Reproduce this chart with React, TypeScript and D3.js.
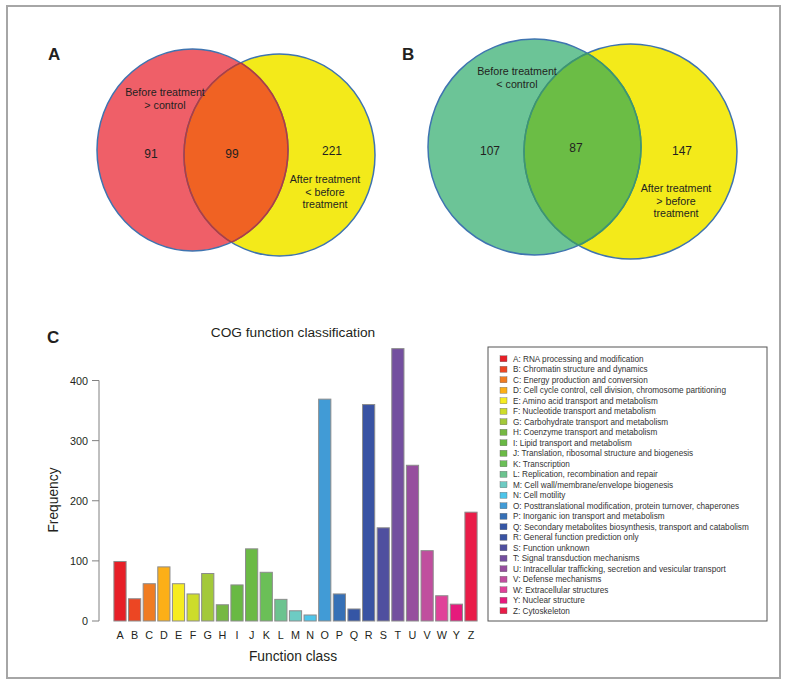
import React from "react";
import * as d3 from "d3";

const categories = ["A","B","C","D","E","F","G","H","I","J","K","L","M","N","O","P","Q","R","S","T","U","V","W","Y","Z"];
const frequencies = [99,37,62,90,62,45,79,27,60,120,81,36,17,10,369,45,20,360,155,453,259,117,42,28,181];
const barColors = ["#e71f27","#ec4623","#f07c22","#fcaf17","#f6ec1f","#cddc2a","#a3c93a","#76b843","#69b944","#6bba45","#6bbf57","#6cc38f","#6dcbc3","#4dc5ea","#419bd6","#3670b6","#3556a5","#3953a3","#4f4f9f","#744f9f","#964e9e","#c04e9e","#e04199","#e61a7c","#e91c48"];
const legendLabels = [
  "A: RNA processing and modification",
  "B: Chromatin structure and dynamics",
  "C: Energy production and conversion",
  "D: Cell cycle control, cell division, chromosome partitioning",
  "E: Amino acid transport and metabolism",
  "F: Nucleotide transport and metabolism",
  "G: Carbohydrate transport and metabolism",
  "H: Coenzyme transport and metabolism",
  "I: Lipid transport and metabolism",
  "J: Translation, ribosomal structure and biogenesis",
  "K: Transcription",
  "L: Replication, recombination and repair",
  "M: Cell wall/membrane/envelope biogenesis",
  "N: Cell motility",
  "O: Posttranslational modification, protein turnover, chaperones",
  "P: Inorganic ion transport and metabolism",
  "Q: Secondary metabolites biosynthesis, transport and catabolism",
  "R: General function prediction only",
  "S: Function unknown",
  "T: Signal transduction mechanisms",
  "U: Intracellular trafficking, secretion and vesicular transport",
  "V: Defense mechanisms",
  "W: Extracellular structures",
  "Y: Nuclear structure",
  "Z: Cytoskeleton",
];
const yTicks = [0, 100, 200, 300, 400];

const vennA = { left: 91, both: 99, right: 221 };
const vennB = { left: 107, both: 87, right: 147 };

const FONT = "'Liberation Sans', Arial, Helvetica, sans-serif";

type VennProps = {
  id: string;
  c1: [number, number, number, number];
  c2: [number, number, number, number];
  col1: string; colBoth: string; col2: string; inner: string;
};

function Venn({ id, c1, c2, col1, colBoth, col2, inner }: VennProps) {
  const e1 = { cx: c1[0], cy: c1[1], rx: c1[2], ry: c1[3] };
  const e2 = { cx: c2[0], cy: c2[1], rx: c2[2], ry: c2[3] };
  return (
    <g>
      <defs>
        <clipPath id={id + "c1"}><ellipse {...e1} /></clipPath>
        <clipPath id={id + "c2"}><ellipse {...e2} /></clipPath>
      </defs>
      <ellipse {...e2} fill={col2} />
      <ellipse {...e1} fill={col1} />
      <ellipse {...e2} fill={colBoth} clipPath={`url(#${id}c1)`} />
      <ellipse {...e1} fill="none" stroke="#3f74b0" strokeWidth={1.5} />
      <ellipse {...e2} fill="none" stroke="#3f74b0" strokeWidth={1.5} />
      <ellipse {...e2} fill="none" stroke={inner} strokeWidth={1.5} clipPath={`url(#${id}c1)`} />
      <ellipse {...e1} fill="none" stroke={inner} strokeWidth={1.5} clipPath={`url(#${id}c2)`} />
    </g>
  );
}

export default function App() {
  const x = d3.scaleBand<string>()
    .domain(categories)
    .range([120 - 14.625 / 2, 471 + 14.625 / 2])
    .paddingInner(1 / 6)
    .paddingOuter(1 / 12);
  const y = d3.scaleLinear().domain([0, 400]).range([621, 380.5]);

  const txt = { fontFamily: FONT, fill: "#231f20" } as const;

  return (
    <svg width={791} height={686} style={{ position: "absolute", left: 0, top: 0 }}>
      <rect x={0} y={0} width={791} height={686} fill="#ffffff" />
      <rect x={7} y={6} width={773} height={672} fill="none" stroke="#a6a6a6" strokeWidth={2} />

      {/* Panel A */}
      <text x={48} y={60} fontSize={17} fontWeight="bold" {...txt}>A</text>
      <Venn id="va" c1={[192.5, 150, 95.5, 101]} c2={[279.5, 155, 95.5, 101]}
        col1="#ef5f68" colBoth="#f06223" col2="#f3ea1a" inner="#b83a3c" />
      <g fontSize={10.7} textAnchor="middle" {...txt}>
        <text x={165} y={96}>Before treatment</text>
        <text x={165} y={109}>&gt; control</text>
        <text x={325} y={183}>After treatment</text>
        <text x={325} y={196}>&lt; before</text>
        <text x={325} y={208}>treatment</text>
      </g>
      <g fontSize={12} textAnchor="middle" {...txt}>
        <text x={151} y={158}>{vennA.left}</text>
        <text x={232} y={158}>{vennA.both}</text>
        <text x={332} y={155}>{vennA.right}</text>
      </g>

      {/* Panel B */}
      <text x={402} y={60} fontSize={17} fontWeight="bold" {...txt}>B</text>
      <Venn id="vb" c1={[534.5, 147, 106.5, 108]} c2={[630.5, 151.5, 106.5, 107.5]}
        col1="#6cc497" colBoth="#6bbd45" col2="#f3ea1a" inner="#3d9a6a" />
      <g fontSize={10.7} textAnchor="middle" {...txt}>
        <text x={517} y={75}>Before treatment</text>
        <text x={517} y={88}>&lt; control</text>
        <text x={676} y={192}>After treatment</text>
        <text x={676} y={205}>&gt; before</text>
        <text x={676} y={217}>treatment</text>
      </g>
      <g fontSize={12} textAnchor="middle" {...txt}>
        <text x={490} y={155}>{vennB.left}</text>
        <text x={576} y={152}>{vennB.both}</text>
        <text x={682} y={155}>{vennB.right}</text>
      </g>

      {/* Panel C */}
      <text x={47} y={343} fontSize={17} fontWeight="bold" {...txt}>C</text>
      <text x={293} y={337} fontSize={13.7} textAnchor="middle" {...txt}>COG function classification</text>

      {/* y axis */}
      <line x1={99} x2={99} y1={y(400)} y2={y(0)} stroke="#808080" strokeWidth={1} />
      {yTicks.map((t) => (
        <g key={t}>
          <line x1={92} x2={99} y1={y(t)} y2={y(t)} stroke="#808080" strokeWidth={1} />
          <text x={88} y={y(t) + 4} fontSize={10.8} textAnchor="end" {...txt}>{t}</text>
        </g>
      ))}
      <text transform={`translate(58,500) rotate(-90)`} fontSize={13.8} textAnchor="middle" {...txt}>Frequency</text>

      {/* bars */}
      {categories.map((c, i) => (
        <g key={c}>
          <rect x={x(c)} y={y(frequencies[i])} width={x.bandwidth()} height={y(0) - y(frequencies[i])}
            fill={barColors[i]} stroke="#8c8c8c" strokeWidth={1} />
          <text x={(x(c) as number) + x.bandwidth() / 2} y={639} fontSize={10.8} textAnchor="middle" {...txt}>{c}</text>
        </g>
      ))}
      <text x={293} y={661} fontSize={13.8} textAnchor="middle" {...txt}>Function class</text>

      {/* legend */}
      <rect x={488} y={347} width={279} height={274} fill="#ffffff" stroke="#555" strokeWidth={1} />
      {legendLabels.map((l, i) => (
        <g key={l}>
          <rect x={500} y={355.8 + i * 10.5} width={7} height={6} fill={barColors[i]} stroke="#666" strokeWidth={0.4} />
          <text x={513} y={361.8 + i * 10.5} fontSize={8.2} fill="#333" fontFamily={FONT}>{l}</text>
        </g>
      ))}
    </svg>
  );
}
